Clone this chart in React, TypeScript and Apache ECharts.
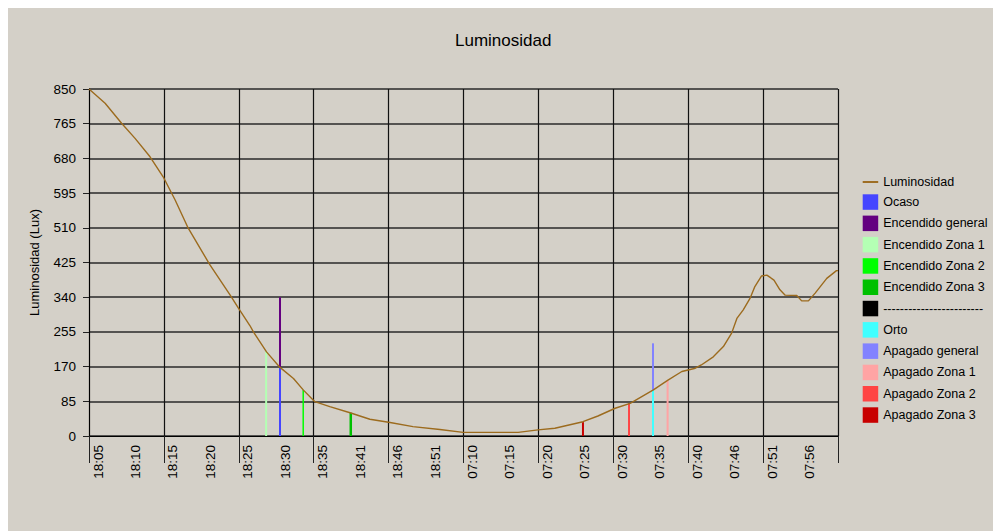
import React, { useEffect, useRef } from "react";
import * as echarts from "echarts";

// x positions are in "label units": label i sits at unit i, one unit per time label
const xLabels = ["18:05", "18:10", "18:15", "18:20", "18:25", "18:30", "18:35", "18:41", "18:46", "18:51", "07:10", "07:15", "07:20", "07:25", "07:30", "07:35", "07:40", "07:46", "07:51", "07:56"];
const yTicks = [0, 85, 170, 255, 340, 425, 510, 595, 680, 765, 850];

const luxX = [0, 0.43, 0.87, 1.23, 1.63, 1.98, 2.3, 2.65, 3.23, 3.77, 3.99, 4.3, 4.39, 4.74, 5.1, 5.46, 5.72, 6.03, 6.43, 6.97, 7.5, 8.04, 8.65, 9.37, 9.99, 11.46, 11.99, 12.44, 13.19, 13.59, 14.05, 14.45, 15.07, 15.46, 15.83, 16.19, 16.35, 16.67, 16.94, 17.16, 17.3, 17.47, 17.65, 17.78, 17.96, 18.1, 18.29, 18.45, 18.59, 18.9, 19.03, 19.21, 19.39, 19.7, 19.96, 20.0];
const luxY = [850, 815, 766, 729, 684, 635, 578, 509, 419, 345, 313, 270, 255, 206, 168, 141, 113, 84, 72, 57, 41, 33, 23, 16, 9, 9, 15, 19, 35, 49, 68, 80, 113, 137, 158, 166, 174, 194, 219, 252, 288, 309, 337, 366, 392, 394, 382, 358, 345, 344, 331, 331, 350, 386, 405, 405];

const eventNames = ["Ocaso", "Encendido general", "Encendido Zona 1", "Encendido Zona 2", "Encendido Zona 3", "------------------------", "Orto", "Apagado general", "Apagado Zona 1", "Apagado Zona 2", "Apagado Zona 3"];
const eventX = [5.1, 5.1, 4.73, 5.72, 6.99, null, 15.06, 15.06, 15.45, 14.42, 13.19];
const eventLux = [168, 340, 208, 113, 57, null, 113, 227, 135, 81, 34];
const eventColors = ["#4545ff", "#640080", "#b4ffb4", "#00ff00", "#00c000", "#000000", "#40ffff", "#8282ff", "#ffa4a4", "#ff4444", "#c80000"];
const eventWidths = [2, 2, 2, 1.5, 2.5, 0, 2, 2, 2, 2, 2];
const eventZ = [3, 2, 3, 3, 3, 3, 3, 2, 3, 3, 3];

const FONT = "Liberation Sans, Arial, sans-serif";

export default function App() {
  const ref = useRef<HTMLDivElement>(null);
  useEffect(() => {
    document.documentElement.style.overflow = "hidden";
    const chart = echarts.init(ref.current!, null, { renderer: "svg" });
    const eventSeries = eventNames.map((name, i) => ({
      type: "line",
      name,
      xAxisIndex: 0,
      yAxisIndex: 0,
      data: eventX[i] == null ? [] : [[eventX[i], 0], [eventX[i], eventLux[i]]],
      showSymbol: false,
      symbol: "none",
      color: eventColors[i],
      lineStyle: { color: eventColors[i], width: eventWidths[i] },
      z: eventZ[i],
      silent: true,
    }));
    const option: any = {
      animation: false,
      backgroundColor: "#d4d0c8",
      textStyle: { fontFamily: FONT },
      title: {
        text: "Luminosidad",
        left: 447,
        top: 24,
        padding: 0,
        textStyle: { fontFamily: FONT, fontSize: 17, fontWeight: "normal", color: "#000" },
      },
      legend: {
        orient: "vertical",
        left: 854.7,
        top: 167.5,
        padding: 0,
        itemWidth: 15.5,
        itemHeight: 15.5,
        itemGap: 5.8,
        selectedMode: false,
        textStyle: { fontFamily: FONT, fontSize: 12.5, color: "#000" },
        data: [
          { name: "Luminosidad", icon: "path://M0,0H16V2H0Z" },
          ...eventNames.map((n) => ({ name: n, icon: "rect" })),
        ],
      },
      grid: { left: 81, top: 81, width: 749, height: 347, containLabel: false },
      xAxis: [
        {
          type: "value",
          position: "bottom",
          min: 0,
          max: 20,
          interval: 1,
          axisLine: { show: false },
          axisTick: { show: false },
          splitLine: { show: false },
          axisLabel: {
            rotate: 90,
            margin: 9,
            verticalAlign: "top",
            lineHeight: 18,
            fontFamily: FONT,
            fontSize: 13.5,
            color: "#000",
            showMaxLabel: false,
            formatter: (v: number) => {
              const r = Math.round(v);
              return Math.abs(v - r) < 1e-6 && r >= 0 && r < xLabels.length ? xLabels[r] : "";
            },
          },
        },
        {
          type: "value",
          position: "bottom",
          min: 0,
          max: 20,
          interval: 2,
          axisLine: { show: true, lineStyle: { color: "#000", width: 1 } },
          axisTick: { show: true, length: 27, lineStyle: { color: "#222", width: 1 } },
          axisLabel: { show: false },
          splitLine: { show: true, lineStyle: { color: "#111", width: 1.2 } },
        },
      ],
      yAxis: {
        type: "value",
        min: yTicks[0],
        max: yTicks[yTicks.length - 1],
        interval: 85,
        name: "Luminosidad (Lux)",
        nameLocation: "middle",
        nameGap: 48,
        nameTextStyle: { fontFamily: FONT, fontSize: 13, color: "#000" },
        axisLine: { show: true, lineStyle: { color: "#000", width: 1 } },
        axisTick: { show: true, length: 6, lineStyle: { color: "#222" } },
        axisLabel: { margin: 13, fontFamily: FONT, fontSize: 13.5, color: "#000" },
        splitLine: { show: true, lineStyle: { color: "#2a2a2a", width: 1.6 } },
      },
      series: [
        {
          type: "line",
          name: "Luminosidad",
          xAxisIndex: 0,
          yAxisIndex: 0,
          data: luxX.map((x, i) => [x, luxY[i]]),
          showSymbol: false,
          symbol: "none",
          color: "#9c6b1e",
          lineStyle: { color: "#9c6b1e", width: 1.4 },
          z: 4,
          silent: true,
        },
        ...eventSeries,
      ],
    };
    chart.setOption(option);
    return () => chart.dispose();
  }, []);
  return (
    <div
      ref={ref}
      style={{ position: "fixed", left: 8, top: 8, width: 985, height: 523 }}
    />
  );
}
